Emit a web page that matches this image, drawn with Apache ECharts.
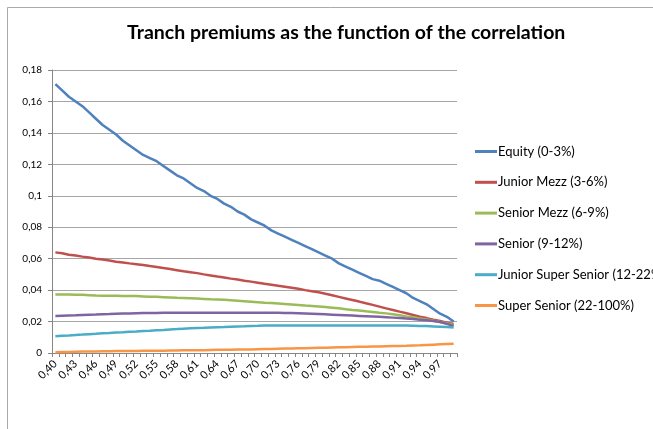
<!DOCTYPE html>
<html>
<head>
<meta charset="utf-8">
<script src="https://cdn.jsdelivr.net/npm/echarts@6/dist/echarts.min.js"></script>
<style>
  html, body { margin: 0; padding: 0; background: #fff; }
  #chart { width: 653px; height: 429px; }
</style>
</head>
<body>
<div id="chart"></div>
<script>
// correlation values on the x axis
var correlation = ['0,40','0,41','0,42','0,43','0,44','0,45','0,46','0,47','0,48','0,49',
  '0,50','0,51','0,52','0,53','0,54','0,55','0,56','0,57','0,58','0,59',
  '0,60','0,61','0,62','0,63','0,64','0,65','0,66','0,67','0,68','0,69',
  '0,70','0,71','0,72','0,73','0,74','0,75','0,76','0,77','0,78','0,79',
  '0,80','0,81','0,82','0,83','0,84','0,85','0,86','0,87','0,88','0,89',
  '0,90','0,91','0,92','0,93','0,94','0,95','0,96','0,97','0,98','0,99'];

var seriesNames = ['Equity (0-3%)', 'Junior Mezz (3-6%)', 'Senior Mezz (6-9%)',
  'Senior (9-12%)', 'Junior Super Senior (12-22%)', 'Super Senior (22-100%)'];

var equity = [0.171,0.167,0.163,0.160,0.157,0.153,0.149,0.145,0.142,0.139,
  0.135,0.132,0.129,0.126,0.124,0.122,0.119,0.116,0.113,0.111,
  0.108,0.105,0.103,0.100,0.098,0.095,0.093,0.090,0.088,0.085,
  0.083,0.081,0.078,0.076,0.074,0.072,0.070,0.068,0.066,0.064,
  0.062,0.060,0.057,0.055,0.053,0.051,0.049,0.047,0.046,0.044,
  0.042,0.040,0.038,0.035,0.033,0.031,0.028,0.025,0.023,0.020];

var juniorMezz = [0.0640,0.0635,0.0625,0.0620,0.0613,0.0607,0.0600,0.0594,0.0588,0.0581,
  0.0576,0.0570,0.0565,0.0560,0.0553,0.0547,0.0540,0.0534,0.0527,0.0520,
  0.0514,0.0508,0.0500,0.0493,0.0486,0.0480,0.0473,0.0467,0.0460,0.0454,
  0.0447,0.0440,0.0434,0.0428,0.0422,0.0415,0.0408,0.0400,0.0393,0.0386,
  0.0377,0.0367,0.0357,0.0347,0.0337,0.0327,0.0316,0.0306,0.0295,0.0284,
  0.0274,0.0263,0.0253,0.0242,0.0231,0.0222,0.0212,0.0203,0.0193,0.0184];

var seniorMezz = [0.0372,0.0372,0.0372,0.0371,0.0370,0.0368,0.0365,0.0364,0.0364,0.0364,
  0.0363,0.0363,0.0362,0.0360,0.0358,0.0357,0.0355,0.0353,0.0351,0.0350,
  0.0348,0.0346,0.0344,0.0342,0.0341,0.0338,0.0335,0.0332,0.0329,0.0326,
  0.0323,0.0320,0.0318,0.0315,0.0312,0.0309,0.0306,0.0302,0.0299,0.0296,
  0.0292,0.0288,0.0284,0.0279,0.0274,0.0270,0.0265,0.0261,0.0256,0.0252,
  0.0246,0.0240,0.0233,0.0227,0.0220,0.0213,0.0205,0.0197,0.0188,0.0178];

var senior = [0.0235,0.0237,0.0239,0.0240,0.0242,0.0244,0.0245,0.0247,0.0248,0.0250,
  0.0251,0.0252,0.0253,0.0254,0.0255,0.0255,0.0256,0.0256,0.0256,0.0256,
  0.0256,0.0256,0.0256,0.0256,0.0256,0.0256,0.0256,0.0256,0.0256,0.0256,
  0.0256,0.0256,0.0256,0.0256,0.0255,0.0254,0.0253,0.0252,0.0250,0.0248,
  0.0246,0.0244,0.0242,0.0240,0.0238,0.0236,0.0234,0.0232,0.0230,0.0228,
  0.0225,0.0222,0.0219,0.0216,0.0212,0.0208,0.0203,0.0197,0.0185,0.0172];

var juniorSuperSenior = [0.0107,0.0110,0.0112,0.0115,0.0117,0.0120,0.0122,0.0125,0.0127,0.0130,
  0.0132,0.0135,0.0137,0.0140,0.0142,0.0145,0.0147,0.0150,0.0152,0.0155,
  0.0157,0.0159,0.0160,0.0162,0.0164,0.0165,0.0167,0.0169,0.0170,0.0172,
  0.0173,0.0175,0.0175,0.0175,0.0175,0.0175,0.0175,0.0175,0.0175,0.0175,
  0.0175,0.0175,0.0175,0.0175,0.0175,0.0175,0.0175,0.0175,0.0175,0.0175,
  0.0175,0.0175,0.0175,0.0174,0.0172,0.0171,0.0169,0.0167,0.0165,0.0162];

var superSenior = [0.0005,0.0006,0.0007,0.0008,0.0009,0.0010,0.0010,0.0011,0.0011,0.0012,
  0.0012,0.0013,0.0013,0.0014,0.0014,0.0015,0.0015,0.0016,0.0016,0.0017,
  0.0017,0.0018,0.0018,0.0019,0.0020,0.0020,0.0021,0.0022,0.0022,0.0023,
  0.0024,0.0025,0.0026,0.0027,0.0028,0.0029,0.0030,0.0031,0.0032,0.0033,
  0.0034,0.0035,0.0036,0.0037,0.0038,0.0039,0.0040,0.0041,0.0042,0.0043,
  0.0044,0.0045,0.0046,0.0048,0.0049,0.0051,0.0053,0.0055,0.0057,0.0059];

var colors = ['#4F81BD', '#C0504D', '#9BBB59', '#8064A2', '#4BACC6', '#F79646'];
var allData = [equity, juniorMezz, seniorMezz, senior, juniorSuperSenior, superSenior];

var font = 'Lato, "Liberation Sans", sans-serif';
var myChart = echarts.init(document.getElementById('chart'));

myChart.setOption({
  animation: false,
  color: colors,
  title: {
    text: 'Tranch premiums as the function of the correlation',
    left: 122,
    top: 18,
    textStyle: { fontFamily: font, fontSize: 19.5, fontWeight: 'bold', color: '#000' }
  },
  graphic: [{
    type: 'rect',
    shape: { x: 7.5, y: 7.5, width: 700, height: 500 },
    style: { fill: 'none', stroke: '#aaaaaa', lineWidth: 1 },
    silent: true
  }],
  legend: {
    orient: 'vertical',
    left: 470,
    top: 140,
    icon: 'rect',
    itemWidth: 22,
    itemHeight: 3,
    itemGap: 17.8,
    textStyle: { fontFamily: font, fontSize: 13, color: '#000', padding: [0, 0, 0, -4] },
    data: seriesNames
  },
  grid: { left: 52, right: 196, top: 70, bottom: 76, containLabel: false },
  xAxis: {
    type: 'category',
    data: correlation,
    boundaryGap: true,
    axisLine: { lineStyle: { color: '#868686', width: 1 } },
    axisTick: { show: true, interval: 0, length: 4, lineStyle: { color: '#868686' } },
    axisLabel: {
      interval: 2,
      rotate: 45,
      margin: 9,
      fontFamily: font,
      fontSize: 11,
      color: '#000'
    }
  },
  yAxis: {
    type: 'value',
    min: 0,
    max: 0.18,
    interval: 0.02,
    axisLine: { show: true, lineStyle: { color: '#868686', width: 1 } },
    axisTick: { show: true, length: 4, lineStyle: { color: '#868686' } },
    splitLine: { lineStyle: { color: '#a6a6a6', width: 1 } },
    axisLabel: {
      margin: 10,
      fontFamily: font,
      fontSize: 10,
      color: '#000',
      formatter: function (v) {
        return v === 0 ? '0' : String(+v.toFixed(2)).replace('.', ',');
      }
    }
  },
  series: seriesNames.map(function (name, i) {
    return {
      name: name,
      type: 'line',
      data: allData[i],
      symbol: 'none',
      lineStyle: { width: 2.5, color: colors[i] },
      itemStyle: { color: colors[i] }
    };
  })
});
</script>
</body>
</html>
